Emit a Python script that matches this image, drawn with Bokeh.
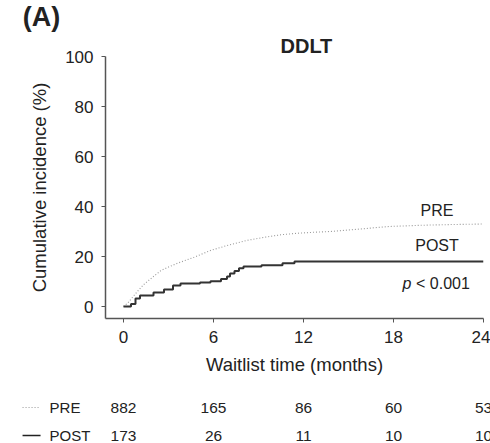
from bokeh.plotting import figure
from bokeh.layouts import column
from bokeh.models import Range1d, FixedTicker
from bokeh.embed import file_html
from bokeh.resources import INLINE
from bokeh.core.properties import value

# ---- data ----
pre_t = [0, 0.3, 0.7, 1.0, 1.35, 2.0, 2.5, 3.0, 3.6, 4.7, 5.8, 6.9, 7.7, 8.2,
         9.4, 10.5, 11.6, 12.7, 13.8, 15.4, 17.7, 19.9, 22.0, 24.0]
pre_v = [0, 1.5, 4.4, 6.5, 8.8, 12.0, 14.4, 15.8, 17.3, 19.7, 22.4, 24.4, 25.6, 26.4,
         27.7, 28.7, 29.3, 29.7, 30.0, 30.8, 32.0, 32.5, 32.8, 33.0]
post_t = [0, 0.5, 0.8, 1.1, 2.0, 2.7, 3.3, 3.8, 5.1, 5.8, 6.5, 6.9, 7.1, 7.4, 7.7,
          8.0, 9.2, 10.6, 11.4, 24.0]
post_v = [0, 1.0, 3.2, 4.4, 5.6, 6.8, 8.4, 9.2, 9.6, 10.1, 11.0, 12.0, 13.2, 14.2, 15.3,
          16.0, 16.5, 17.3, 18.0, 18.0]
x_ticks = [0, 6, 12, 18, 24]
y_ticks = [0, 20, 40, 60, 80, 100]
risk_times = [0, 6, 12, 18, 24]
risk_pre = [882, 165, 86, 60, 53]
risk_post = [173, 26, 11, 10, 10]

FONT = "Liberation Sans"
TXT = "#222222"
W = 490
X0_PX, PX_PER_MONTH = 123, 15  # page mapping used by the header and risk table
FULL_X = Range1d(-X0_PX / PX_PER_MONTH, (W - X0_PX) / PX_PER_MONTH)


def txt(fig, x, y, text, size="16px", style="normal", align="center", color=TXT):
    fig.text(x=x, y=y, text=text, text_font=value(FONT), text_font_size=size,
             text_font_style=style, text_align=align, text_baseline="middle",
             text_color=color)


def bare(height):
    f = figure(width=W, height=height, output_backend="svg", toolbar_location=None,
               x_range=FULL_X, y_range=Range1d(height, 0), min_border=0)
    f.frame_align = False
    f.outline_line_color = None
    f.grid.grid_line_color = None
    f.axis.visible = False
    f.background_fill_color = "white"
    f.border_fill_color = "white"
    return f


# ---- header with panel tag ----
HEAD_H = 32
h = bare(HEAD_H)
txt(h, [-5.47], [16], ["(A)"], size="27px", style="bold")

# ---- main plot ----
p = figure(width=W, height=380 - HEAD_H, output_backend="svg", toolbar_location=None,
           x_range=Range1d(-1.2, 24), y_range=Range1d(-4.8, 100),
           min_border_left=105, min_border_right=7, min_border_top=56 - HEAD_H,
           min_border_bottom=62)
p.frame_align = False
p.outline_line_color = None
p.grid.grid_line_color = None
p.background_fill_color = "white"
p.border_fill_color = "white"

p.title.text = "DDLT"
p.title.align = "left"
p.title.offset = 175
p.title.standoff = 0
p.title.text_font = FONT
p.title.text_font_size = "20px"
p.title.text_font_style = "bold"
p.title.text_color = TXT

for ax in (p.xaxis[0], p.yaxis[0]):
    ax.axis_line_color = "#555555"
    ax.axis_line_width = 1.5
    ax.major_tick_line_color = "#555555"
    ax.major_tick_out = 4
    ax.major_tick_in = 0
    ax.minor_tick_line_color = None
    ax.major_label_text_font = FONT
    ax.major_label_text_font_size = "17px"
    ax.major_label_text_color = TXT
    ax.axis_label_text_font = FONT
    ax.axis_label_text_font_size = "18.5px"
    ax.axis_label_text_font_style = "normal"
    ax.axis_label_text_color = TXT

p.xaxis.ticker = FixedTicker(ticks=x_ticks)
p.yaxis.ticker = FixedTicker(ticks=y_ticks)
p.xaxis.axis_label = "Waitlist time (months)"
p.yaxis.axis_label = "Cumulative incidence (%)"
p.xaxis.major_label_standoff = 8
p.yaxis.major_label_standoff = 8
p.xaxis.axis_label_standoff = 8
p.yaxis.axis_label_standoff = 12

p.line(pre_t, pre_v, line_color="#999999", line_width=1.1, line_dash="1 2")
p.step(post_t, post_v, mode="after", line_color="#333333", line_width=2)

txt(p, [20.9], [38.4], ["PRE"])
txt(p, [20.9], [24.4], ["POST"])
txt(p, [18.6], [9.2], ["p"], style="italic", align="left")
txt(p, [19.5], [9.2], ["< 0.001"], align="left")

# ---- risk table ----
TAB_H = 63
t = bare(TAB_H)
row_pre, row_post = 27, 55
t.line([-6.73, -5.53], [row_pre, row_pre], line_color="#999999", line_width=1.1, line_dash="1 2")
t.line([-6.73, -5.53], [row_post, row_post], line_color="#222222", line_width=1.5)
txt(t, [-4.93], [row_pre], ["PRE"], size="15px", align="left")
txt(t, [-4.93], [row_post], ["POST"], size="15px", align="left")
txt(t, risk_times, [row_pre] * len(risk_times), [str(v) for v in risk_pre], size="15.5px")
txt(t, risk_times, [row_post] * len(risk_times), [str(v) for v in risk_post], size="15.5px")

layout = column(h, p, t, spacing=0)
open("out.html", "w").write(file_html(layout, INLINE))
